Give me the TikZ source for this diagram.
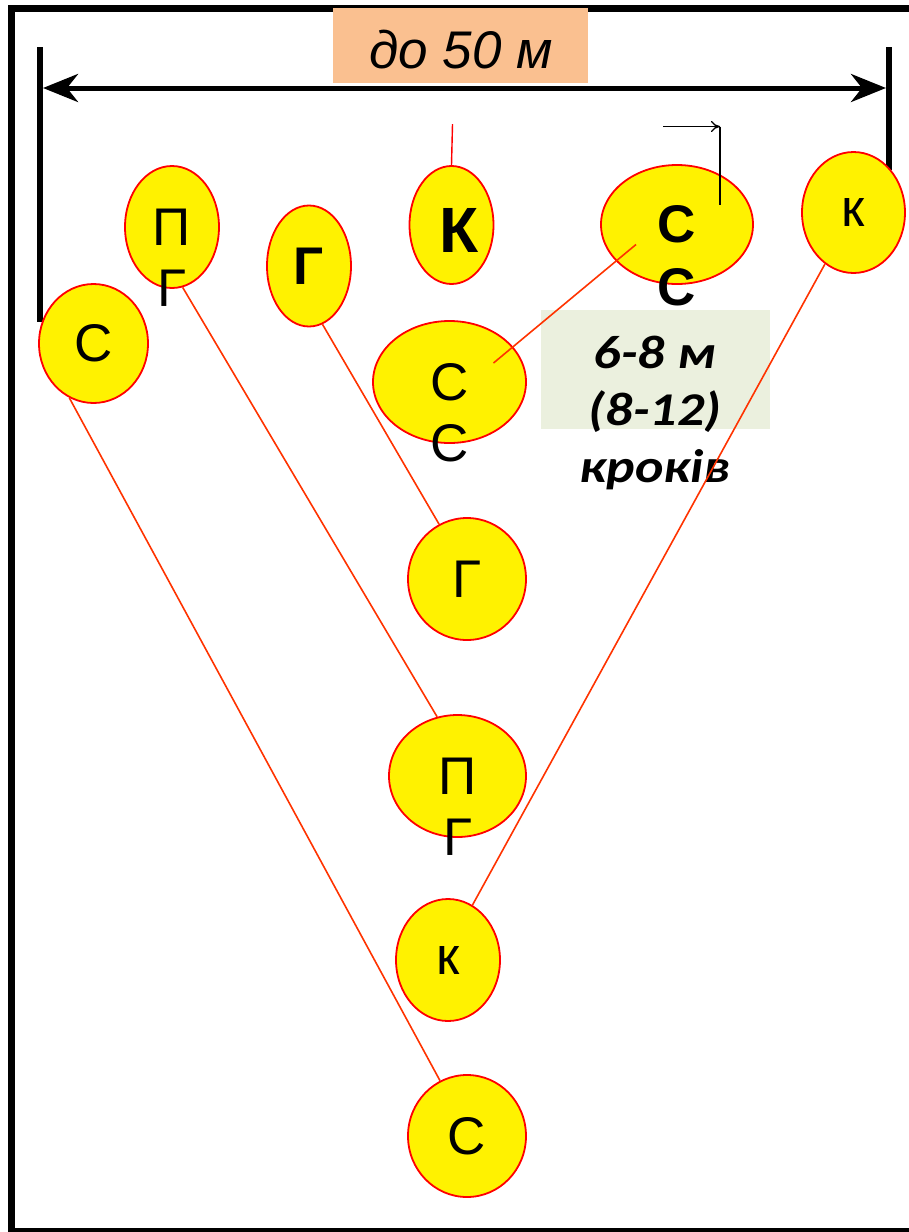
\documentclass[tikz,border=0pt]{standalone}
\usepackage{fontspec}
\setmainfont{Liberation Sans}
\newfontfamily\stepfont[FakeStretch=1.15]{Carlito}
\usetikzlibrary{shapes.geometric,arrows.meta}
\definecolor{peach}{RGB}{250,192,144}
\definecolor{sage}{RGB}{235,240,222}
\definecolor{track}{RGB}{255,51,0}
\newcommand{\Ltr}{\fontsize{53}{63}\selectfont}
\tikzset{dimtip/.tip={Stealth[length=35pt,width=28pt,inset=11pt]}}

\begin{document}
\begin{tikzpicture}[x=1pt,y=-1pt,
  man/.style={ellipse, draw=red, fill=yellow, line width=1.8pt, inner sep=0pt, font=\Ltr},
  ltr/.style={inner sep=0pt, font=\Ltr},
  trail/.style={draw=track, line width=1.6pt}]

  \useasboundingbox (0,0) rectangle (909,1232);
  \clip (0,0) rectangle (909,1232);

  % frame
  \draw[line width=7.5pt] (11.5,8.5) rectangle (1000,1231.5);

  % width of the line
  \draw[line width=6pt] (40,47) -- (40,322);
  \draw[line width=6pt] (889,47) -- (889,170);
  \coordinate (dimL) at (43,88);
  \coordinate (dimR) at (886,88);
  \draw[line width=5pt, {dimtip}-{dimtip}] (dimL) -- (dimR);
  \node[fill=peach, minimum width=255, minimum height=75, inner sep=0pt] (dimbox) at (460.5,45.5) {};
  \node[font=\fontsize{53}{60}\selectfont\itshape, inner sep=0pt, anchor=base] (dimtxt) at (461,68) {до 50 м};

  % distance
  \node[fill=sage, minimum width=229, minimum height=119, inner sep=0pt] (stepbox) at (655.5,369.5) {};
  \node[font=\stepfont\bfseries\itshape\fontsize{47}{57}\selectfont, align=center, inner sep=0pt, anchor=north] (steptxt) at (655,336) {6-8 м\\(8-12)\\кроків};

  % first line
  \node[man, minimum width=94, minimum height=122] (pg1) at (172,227) {П};
  \node[man, minimum width=84, minimum height=121, font=\Ltr\bfseries] (g1) at (309,266) {Г};
  \node[man, minimum width=84, minimum height=118] (kk) at (451.5,225) {};
  \node[ltr, font=\fontsize{64}{70}\selectfont\bfseries] (kkt) at ([shift={(8,5)}]kk.center) {К};
  \node[man, minimum width=152, minimum height=119, font=\Ltr\bfseries] (ss1) at (677,224.5) {С};
  \node[man, minimum width=103, minimum height=121] (kt) at (853.5,212.5) {к};
  \node[man, minimum width=109, minimum height=119] (s1) at (93.5,343.5) {С};

  % column
  \node[man, minimum width=153, minimum height=122] (ss2) at (449.5,382) {С};
  \node[man, minimum width=118, minimum height=122] (g2) at (467,579) {Г};
  \node[man, minimum width=137, minimum height=122] (pg2) at (457.5,776) {П};
  \node[man, minimum width=104, minimum height=122] (kb) at (448,960) {к};
  \node[man, minimum width=118, minimum height=122] (s2) at (467,1136) {С};

  % second letters
  \node[ltr] (pg1b) at ([yshift=-61pt]pg1.center) {Г};
  \node[ltr, font=\Ltr\bfseries] (ss1b) at ([yshift=-62.5pt]ss1.center) {С};
  \node[ltr] (ss2b) at ([yshift=-61pt]ss2.center) {С};
  \node[ltr] (pg2b) at ([yshift=-61pt]pg2.center) {Г};

  \draw[trail] (s1.246) -- (s2.116); % С -> С
  \draw[trail] (pg1.280) -- (pg2.109); % ПГ -> ПГ
  \draw[trail] (g1.283) -- (g2.117); % Г -> Г
  \draw[trail] (kt.241) -- (kb.66); % к -> к
  \draw[trail] ([shift={(-41,20)}]ss1.center) -- ([shift={(44,-19)}]ss2.center); % СС -> СС
  \draw[red, line width=1.4pt] (kk.north) -- ++(1,-41);

  \coordinate (bend) at ([shift={(43,-98)}]ss1.center);
  \draw[line width=1.3pt, -{To[length=9pt,width=11pt]}] ([xshift=-57pt]bend) -- (bend);
  \draw[line width=1.3pt] (bend) -- ([shift={(43,-20)}]ss1.center);
\end{tikzpicture}
\end{document}
